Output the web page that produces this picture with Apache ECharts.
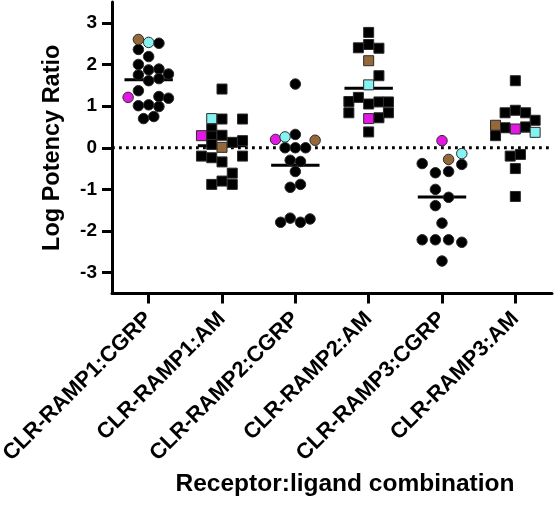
<!DOCTYPE html>
<html>
<head>
<meta charset="utf-8">
<script src="https://cdn.jsdelivr.net/npm/echarts@6/dist/echarts.min.js"></script>
<style>html,body{margin:0;padding:0;background:#fff}#c{width:554px;height:508px}</style>
</head>
<body>
<div id="c"></div>
<script>
// ---- data ----
const categories = ['CLR-RAMP1:CGRP','CLR-RAMP1:AM','CLR-RAMP2:CGRP','CLR-RAMP2:AM','CLR-RAMP3:CGRP','CLR-RAMP3:AM'];
const yTicks = [-3,-2,-1,0,1,2,3];
const means = [1.63, 0.05, -0.42, 1.43, -1.18, 0.40];
// tag: 0 = black, 1 = brown, 2 = cyan, 3 = magenta
const r1cgrpVals = [2.60,2.53,2.51,2.36,2.19,2.00,1.87,1.89,1.75,1.77,1.61,1.66,1.37,1.21,1.23,1.19,1.01,1.03,0.99,0.70,0.75];
const r1cgrpJit  = [-0.14,0,0.14,-0.14,0,-0.14,0,0.14,-0.14,0.27,0,0.14,-0.14,-0.28,0.14,0.27,-0.14,0,0.14,-0.07,0.07];
const r1cgrpTag  = [1,2,0,0,0,0,0,0,0,0,0,0,0,3,0,0,0,0,0,0,0];
const r1amVals = [1.41,0.69,0.69,0.45,0.28,0.30,0.13,0.17,0.08,-0.20,-0.24,-0.34,-0.20,-0.61,-0.88,-0.80,-0.88,0.70,0.29,0.01];
const r1amJit  = [0,0,0.28,-0.14,-0.14,0,0.14,0.28,-0.14,-0.28,-0.14,0,0.28,0.14,-0.14,0,0.14,-0.14,-0.28,0];
const r1amTag  = [0,0,0,0,0,0,0,0,0,0,0,0,0,0,0,0,0,2,3,1];
const r2cgrpVals = [1.53,0.32,0.00,0.00,0.00,-0.30,-0.33,-0.57,-0.95,-0.88,-1.79,-1.69,-1.79,-1.71,0.20,0.26,0.18];
const r2cgrpJit  = [0,0,-0.14,0,0.14,-0.07,0.07,0,-0.07,0.07,-0.2,-0.07,0.07,0.2,-0.27,-0.14,0.27];
const r2cgrpTag  = [0,0,0,0,0,0,0,0,0,0,0,0,0,0,3,2,1];
const r2amVals = [2.77,2.40,2.48,2.39,1.73,1.11,1.21,1.05,1.10,1.10,0.84,0.72,0.84,0.38,2.09,1.51,0.70];
const r2amJit  = [0,-0.14,0,0.14,0.14,-0.27,-0.14,0,0.14,0.27,-0.27,0.14,0.27,0,0,0,0];
const r2amTag  = [0,0,0,0,0,0,0,0,0,0,0,0,0,0,1,2,3];
const r3cgrpVals = [-0.40,-0.38,-0.60,-0.57,-1.00,-1.19,-1.39,-1.81,-2.21,-2.21,-2.21,-2.27,-2.72,0.17,-0.28,-0.14];
const r3cgrpJit  = [0.27,-0.27,-0.09,0.09,-0.09,0.09,-0.09,0,-0.27,-0.09,0.09,0.27,0,0,0.09,0.27];
const r3cgrpTag  = [0,0,0,0,0,0,0,0,0,0,0,0,0,3,1,2];
const r3amVals = [1.61,0.84,0.90,0.84,0.66,0.48,0.50,0.29,-0.20,-0.16,-0.50,-1.17,0.54,0.45,0.37];
const r3amJit  = [0,-0.14,0,0.14,0.27,-0.14,0.14,-0.27,-0.07,0.07,0,0,-0.27,0,0.27];
const r3amTag  = [0,0,0,0,0,0,0,0,0,0,0,0,1,3,2];

// ---- build ----
const groups = [
  [r1cgrpVals, r1cgrpJit, r1cgrpTag, 'circle'],
  [r1amVals, r1amJit, r1amTag, 'rect'],
  [r2cgrpVals, r2cgrpJit, r2cgrpTag, 'circle'],
  [r2amVals, r2amJit, r2amTag, 'rect'],
  [r3cgrpVals, r3cgrpJit, r3cgrpTag, 'circle'],
  [r3amVals, r3amJit, r3amTag, 'rect']
];
const tagColors = ['#000000', '#95683A', '#86F3F3', '#E418E4'];
const FONT = '"Liberation Sans", Arial, Helvetica, sans-serif';
const MEAN_HALF = 0.33;

const series = [];
series.push({
  type: 'line', xAxisIndex: 1, yAxisIndex: 0, symbol: 'none', silent: true, z: 1,
  data: [[-0.5, 0], [5.5, 0]],
  lineStyle: { color: '#000', width: 2.8, type: [2.8, 4.2], cap: 'butt' }
});
means.forEach((m, i) => {
  series.push({
    type: 'line', xAxisIndex: 1, yAxisIndex: 0, symbol: 'none', silent: true, z: 2,
    data: [[i - MEAN_HALF, m], [i + MEAN_HALF, m]],
    lineStyle: { color: '#000', width: 3 }
  });
});
[0, 1].forEach(layer => {
  groups.forEach((g, i) => {
    const [vals, jit, tag, shape] = g;
    const data = [];
    vals.forEach((v, k) => {
      const isCol = tag[k] !== 0;
      if ((layer === 1) !== isCol) return;
      data.push({ value: [i + jit[k], v], itemStyle: { color: tagColors[tag[k]] } });
    });
    series.push({
      type: 'scatter', xAxisIndex: 1, yAxisIndex: 0, symbol: shape,
      symbolSize: shape === 'circle' ? 10.5 : 10,
      z: 3 + layer,
      itemStyle: { borderColor: '#2a2a2a', borderWidth: 1, opacity: 1 },
      data: data
    });
  });
});

const chart = echarts.init(document.getElementById('c'), null, { renderer: 'canvas' });
chart.setOption({
  animation: false,
  backgroundColor: '#ffffff',
  grid: { left: 112, right: 2, top: 2, bottom: 214.5, containLabel: false, outerBoundsMode: 'none' },
  xAxis: [
    {
      type: 'category', data: categories, boundaryGap: true, gridIndex: 0,
      name: 'Receptor:ligand combination', nameLocation: 'middle', nameGap: 173,
      nameTextStyle: { fontFamily: FONT, fontWeight: 'bold', fontSize: 24.5, color: '#000', padding: [0, 0, 0, 26] },
      axisLine: { show: true, onZero: false, lineStyle: { color: '#000', width: 3 } },
      axisTick: { show: true, alignWithLabel: true, length: 10, lineStyle: { color: '#000', width: 3 } },
      axisLabel: { rotate: 45, margin: 22, fontFamily: FONT, fontWeight: 'bold', fontSize: 22, color: '#000', interval: 0 },
      splitLine: { show: false }
    },
    { type: 'value', min: -0.5, max: 5.5, show: false, gridIndex: 0, axisLine: { onZero: false } }
  ],
  yAxis: {
    type: 'value', min: -3.5, max: 3.5,
    name: 'Log Potency Ratio', nameLocation: 'middle', nameGap: 47,
    nameTextStyle: { fontFamily: FONT, fontWeight: 'bold', fontSize: 23.5, color: '#000' },
    axisLine: { show: true, onZero: false, lineStyle: { color: '#000', width: 3 } },
    axisTick: { show: true, length: 10, customValues: yTicks, lineStyle: { color: '#000', width: 3 } },
    axisLabel: { customValues: yTicks, margin: 15, fontFamily: FONT, fontWeight: 'bold', fontSize: 19, color: '#000' },
    splitLine: { show: false }
  },
  series: series
});
</script>
</body>
</html>
